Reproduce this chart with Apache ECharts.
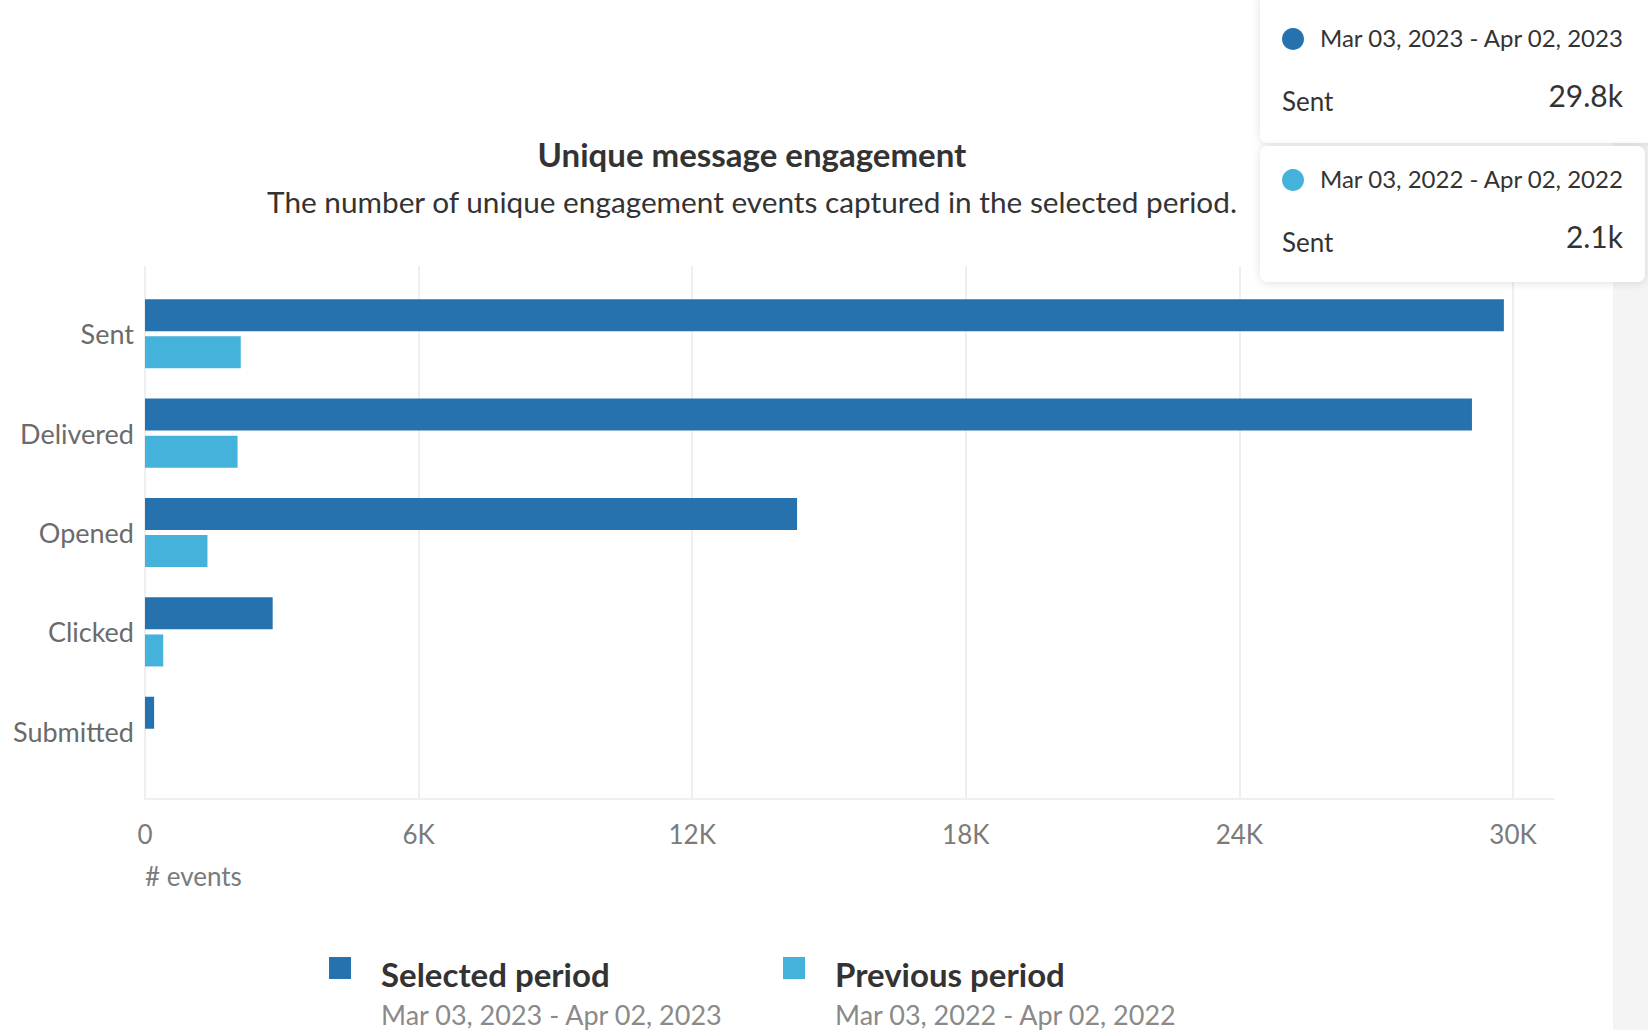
<!DOCTYPE html>
<html><head><meta charset="utf-8">
<script src="https://cdn.jsdelivr.net/npm/echarts@6/dist/echarts.min.js"></script>
<style>html,body{margin:0;padding:0;background:#fff}#c{width:1648px;height:1030px}</style>
</head><body><div id="c"></div>
<script>
const categories = ['Sent', 'Delivered', 'Opened', 'Clicked', 'Submitted'];
const selectedValues = [29800, 29100, 14300, 2800, 200];
const previousValues = [2100, 2030, 1370, 400, 0];
const seriesNames = ['Selected period', 'Previous period'];
const periodRanges = ['Mar 03, 2023 - Apr 02, 2023', 'Mar 03, 2022 - Apr 02, 2022'];
const xTicks = [0, 6000, 12000, 18000, 24000, 30000];
const axisName = '# events';
const titleText = 'Unique message engagement';
const subtitleText = 'The number of unique engagement events captured in the selected period.';
const tooltipCategoryIndex = 0;

const COLORS = ['#2672ae', '#44b2da'];
const FONT = 'Lato';
const fmtTick = v => v === 0 ? '0' : (v / 1000) + 'K';
const fmtK = v => (v / 1000).toFixed(1) + 'k';

const chart = echarts.init(document.getElementById('c'), null, { renderer: 'svg' });

const seriesVals = [selectedValues, previousValues];
const tipGraphics = [];
// grey strip on the right
tipGraphics.push({ type: 'rect', z: 0, shape: { x: 1613, y: 0, width: 40, height: 1030 }, style: { fill: '#f4f4f4' } });
seriesVals.forEach((vals, i) => {
  const top = i === 0 ? -12 : 146;
  const h = i === 0 ? 155 : 136;
  const w = i === 0 ? 400 : 385;
  const off = i * 141;
  tipGraphics.push({ type: 'rect', z: 10, shape: { x: 1260, y: top, width: w, height: h, r: 8 },
    style: { fill: '#ffffff', shadowBlur: 10, shadowColor: 'rgba(0,0,0,0.12)', shadowOffsetY: 1 } });
  tipGraphics.push({ type: 'circle', z: 11, shape: { cx: 1293, cy: 39 + off, r: 11 }, style: { fill: COLORS[i] } });
  tipGraphics.push({ type: 'text', z: 11, x: 1320, y: 37 + off,
    style: { text: periodRanges[i], font: '24px ' + FONT, fill: '#333', verticalAlign: 'middle' } });
  tipGraphics.push({ type: 'text', z: 11, x: 1282, y: 101 + off,
    style: { text: categories[tooltipCategoryIndex], font: '26px ' + FONT, fill: '#333', verticalAlign: 'middle' } });
  tipGraphics.push({ type: 'text', z: 11, x: 1623, y: 95 + off,
    style: { text: fmtK(vals[tooltipCategoryIndex]), font: '30px ' + FONT, fill: '#333', align: 'right', verticalAlign: 'middle' } });
});

const gridLineColor = '#efefef';
// square sitting in the upper part of the legend item box
const legendIcon = 'path://M0,0L22,0L22,22L0,22Z M0,33';
const legendLefts = [329, 783];

const option = {
  backgroundColor: '#ffffff',
  animation: false,
  title: [
    { text: titleText, left: 752, top: 137, textAlign: 'center', padding: 0,
      textStyle: { fontFamily: FONT, fontWeight: 'bold', fontSize: 33, color: '#333' } },
    { text: subtitleText, left: 752, top: 186, textAlign: 'center', padding: 0,
      textStyle: { fontFamily: FONT, fontWeight: 'normal', fontSize: 29.75, color: '#333' } },
    { text: periodRanges[0], left: 381, top: 1001, padding: 0,
      textStyle: { fontFamily: FONT, fontWeight: 'normal', fontSize: 27, color: '#8a8a8a' } },
    { text: periodRanges[1], left: 835, top: 1001, padding: 0,
      textStyle: { fontFamily: FONT, fontWeight: 'normal', fontSize: 27, color: '#8a8a8a' } }
  ],
  legend: seriesNames.map((name, i) => ({
    data: [name], left: legendLefts[i], top: 957, padding: 0, itemWidth: 22, itemHeight: 33,
    icon: legendIcon, selectedMode: false,
    textStyle: { fontFamily: FONT, fontWeight: 'bold', fontSize: 33, color: '#333', padding: [0, 0, 0, 25] }
  })),
  grid: [
    { left: 145, top: 284, width: 1368, height: 497 },
    { left: 145, top: 266, width: 1368, height: 533 },
    { left: 145, top: 266, width: 1409, height: 533 }
  ],
  xAxis: [
    { gridIndex: 0, type: 'value', min: xTicks[0], max: xTicks[xTicks.length - 1], interval: xTicks[1] - xTicks[0], show: false },
    { gridIndex: 1, type: 'value', min: xTicks[0], max: xTicks[xTicks.length - 1], interval: xTicks[1] - xTicks[0],
      axisLine: { show: false }, axisTick: { show: false },
      splitLine: { show: true, lineStyle: { color: gridLineColor, width: 2 } },
      axisLabel: { fontFamily: FONT, fontSize: 26, color: '#7b7b7b', margin: 22, formatter: fmtTick },
      name: axisName, nameLocation: 'start', nameGap: 0,
      nameTextStyle: { fontFamily: FONT, fontSize: 26, color: '#7b7b7b', align: 'left', verticalAlign: 'top', padding: [64, 0, 0, 0] } },
    { gridIndex: 2, type: 'value', min: 0, max: 1,
      axisLine: { show: true, lineStyle: { color: gridLineColor, width: 2 } },
      axisTick: { show: false }, axisLabel: { show: false }, splitLine: { show: false } }
  ],
  yAxis: [
    { gridIndex: 0, type: 'category', data: categories, inverse: true,
      axisLine: { show: false }, axisTick: { show: false }, splitLine: { show: false },
      axisLabel: { fontFamily: FONT, fontSize: 27, color: '#6b6b6b', margin: 11 } },
    { gridIndex: 1, type: 'value', show: false },
    { gridIndex: 2, type: 'value', show: false }
  ],
  series: [
    { name: seriesNames[0], type: 'bar', xAxisIndex: 0, yAxisIndex: 0, data: selectedValues,
      barWidth: 32, barGap: '16%', itemStyle: { color: COLORS[0] } },
    { name: seriesNames[1], type: 'bar', xAxisIndex: 0, yAxisIndex: 0, data: previousValues,
      barWidth: 32, barGap: '16%', itemStyle: { color: COLORS[1] } }
  ],
  graphic: tipGraphics
};
chart.setOption(option);
</script>
</body></html>
